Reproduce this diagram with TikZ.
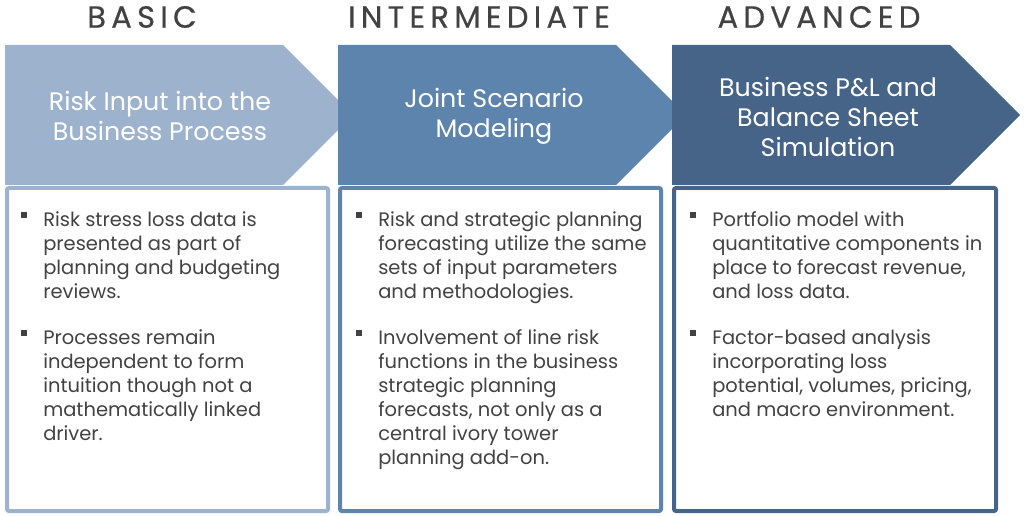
\documentclass[tikz,border=0pt]{standalone}
\usepackage{fontspec}
\setmainfont{Poppins}
\newfontfamily\headfont[LetterSpace=17,FakeBold=0.4]{Poppins}
\usetikzlibrary{positioning}
\usetikzlibrary{calc}

\definecolor{basic}{HTML}{9DB3CD}
\definecolor{inter}{HTML}{5D84AC}
\definecolor{adv}{HTML}{466488}
\definecolor{ink}{HTML}{424242}

\tikzset{
  header/.style={font=\headfont\fontsize{23}{26}\selectfont, text=ink, inner sep=0},
  title/.style={font=\fontsize{19}{22.5}\selectfont, text=white, align=center, inner sep=0},
  panel/.style={draw=#1, fill=white, line width=3pt, rounded corners=1.5pt},
  bullet/.style={fill=ink, minimum size=3.8pt, inner sep=0},
  item/.style={font=\fontsize{14.6}{18}\selectfont, text=ink, align=left, inner sep=0, anchor=north west}
}

\begin{document}
\begin{tikzpicture}[x=0.75pt,y=-0.75pt]

\useasboundingbox (0,0) rectangle (1024,516);

\fill[basic] (5,45) -- ++(278,0) -- ++(70,70) -- ++(-70,70) -- ++(-278,0) -- cycle;
\fill[inter] (338,45) -- ++(278,0) -- ++(70,70) -- ++(-70,70) -- ++(-278,0) -- cycle;
\fill[adv] (672,45) -- ++(278,0) -- ++(70,70) -- ++(-70,70) -- ++(-278,0) -- cycle;

\draw[panel=basic] (7,188) rectangle (328,511);
\draw[panel=inter] (340,188) rectangle (661,511);
\draw[panel=adv] (674,188) rectangle (996,511);

\node[header] (h1) at (142,17) {BASIC};
\node[header] (h2) at (479,17) {INTERMEDIATE};
\node[header] (h3) at (819,17) {ADVANCED};

\node[title] (t1) at (160,116) {Risk Input into the\\Business Process};
\node[title] (t2) at (494,116) {Joint Scenario\\Modeling};
\node[title] (t3) at (828,117) {Business P\&L and\\Balance Sheet\\Simulation};

\node[item] (b11) at (43,211) {Risk stress loss data is\\presented as part of\\planning and budgeting\\reviews.};
\node[item] (b12) at (43,329) {Processes remain\\independent to form\\intuition though not a\\mathematically linked\\driver.};
\node[item] (b21) at (378,211) {Risk and strategic planning\\forecasting utilize the same\\sets of input parameters\\and methodologies.};
\node[item] (b22) at (378,329) {Involvement of line risk\\functions in the business\\strategic planning\\forecasts, not only as a\\central ivory tower\\planning add-on.};
\node[item] (b31) at (712,211) {Portfolio model with\\quantitative components in\\place to forecast revenue,\\and loss data.};
\node[item] (b32) at (712,329) {Factor-based analysis\\incorporating loss\\potential, volumes, pricing,\\and macro environment.};

\node[bullet] (s11) at ($(b11.north west)+(-19,4)$) {};
\node[bullet] (s12) at ($(b12.north west)+(-19,4)$) {};
\node[bullet] (s21) at ($(b21.north west)+(-19,4)$) {};
\node[bullet] (s22) at ($(b22.north west)+(-19,4)$) {};
\node[bullet] (s31) at ($(b31.north west)+(-19,4)$) {};
\node[bullet] (s32) at ($(b32.north west)+(-19,4)$) {};

\end{tikzpicture}
\end{document}
